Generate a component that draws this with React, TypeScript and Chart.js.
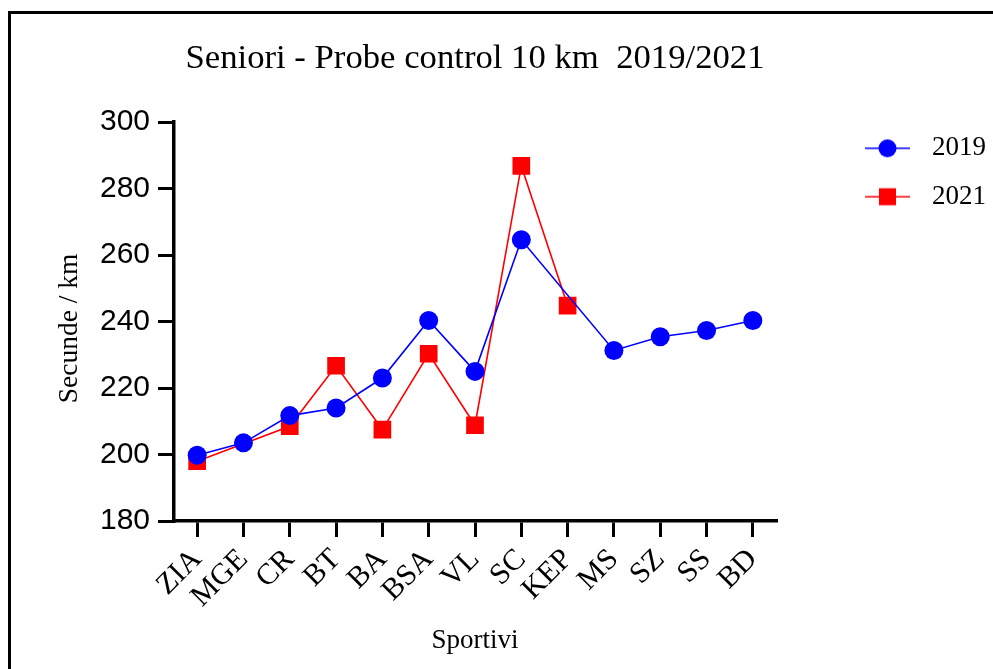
import React, { useEffect, useRef } from 'react';
import { Chart, registerables } from 'chart.js';

Chart.register(...registerables);

const chartTitle = 'Seniori - Probe control 10 km  2019/2021';
const categories = ['ZIA', 'MGE', 'CR', 'BT', 'BA', 'BSA', 'VL', 'SC', 'KEP', 'MS', 'SZ', 'SS', 'BD'];
const series2019: (number | null)[] = [199.8, 203.5, 211.7, 214.0, 223.0, 240.3, 225.0, 264.6, null, 231.3, 235.4, 237.3, 240.3];
const series2021: (number | null)[] = [198.0, null, 208.5, 226.7, 207.5, 230.3, 208.8, 286.8, 244.8, null, null, null, null];
const yTickValues = [180, 200, 220, 240, 260, 280, 300];
const seriesNames = ['2019', '2021'];

const SERIF = "'Liberation Serif', 'Times New Roman', serif";
const SANS = "'Liberation Sans', Arial, sans-serif";

function makeIcon(color: string, shape: 'circle' | 'rect'): HTMLCanvasElement {
  const c = document.createElement('canvas');
  c.width = 104;
  c.height = 24;
  const ctx = c.getContext('2d')!;
  ctx.strokeStyle = color;
  ctx.lineWidth = 2;
  ctx.globalAlpha = 0.75;
  ctx.beginPath();
  ctx.moveTo(59, 12);
  ctx.lineTo(104, 12);
  ctx.stroke();
  ctx.globalAlpha = 1;
  ctx.fillStyle = color;
  ctx.beginPath();
  if (shape === 'circle') {
    ctx.arc(81.5, 12, 9, 0, Math.PI * 2);
  } else {
    ctx.rect(81.5 - 8.5, 12 - 8.5, 17, 17);
  }
  ctx.fill();
  return c;
}

export default function App() {
  const ref = useRef<HTMLCanvasElement>(null);

  useEffect(() => {
    if (!ref.current) return;
    const iconBlue = makeIcon('#0000ff', 'circle');
    const iconRed = makeIcon('#ff0000', 'rect');
    const chart = new Chart(ref.current, {
      type: 'line',
      data: {
        labels: categories,
        datasets: [
          {
            label: seriesNames[0],
            data: series2019,
            borderColor: '#0000ff',
            backgroundColor: '#0000ff',
            borderWidth: 1.6,
            pointStyle: 'circle',
            pointRadius: 9.5,
            pointBorderWidth: 0,
            pointBackgroundColor: '#0000ff',
            spanGaps: true,
            tension: 0,
          },
          {
            label: seriesNames[1],
            data: series2021,
            borderColor: '#ff0000',
            backgroundColor: '#ff0000',
            borderWidth: 1.6,
            pointStyle: 'rect',
            pointRadius: 12.5,
            pointBorderWidth: 0,
            pointBackgroundColor: '#ff0000',
            spanGaps: true,
            tension: 0,
          },
        ],
      },
      options: {
        responsive: false,
        animation: false,
        devicePixelRatio: 1,
        layout: { padding: { top: 20, left: 0, right: 0, bottom: 0 } },
        plugins: {
          tooltip: { enabled: false },
          title: {
            display: true,
            text: chartTitle,
            fullSize: false,
            color: '#000',
            font: { family: SERIF, size: 34.7, weight: 'normal' },
            padding: { top: 18.1, bottom: 42.3 },
          },
          legend: {
            display: true,
            position: 'right',
            align: 'start',
            maxWidth: 217,
            title: {
              display: true,
              text: '',
              font: { size: 12 },
              padding: { top: 79, bottom: 0 },
            },
            labels: {
              usePointStyle: true,
              pointStyleWidth: 121.1,
              padding: 21.4,
              color: '#000',
              font: { family: SERIF, size: 27 },
              generateLabels: () => [
                { text: seriesNames[0], pointStyle: iconBlue as any, fillStyle: '#0000ff', strokeStyle: '#0000ff', lineWidth: 0, hidden: false, datasetIndex: 0, fontColor: '#000' },
                { text: seriesNames[1], pointStyle: iconRed as any, fillStyle: '#ff0000', strokeStyle: '#ff0000', lineWidth: 0, hidden: false, datasetIndex: 1, fontColor: '#000' },
              ],
            },
          },
        },
        scales: {
          x: {
            type: 'category',
            offset: true,
            afterFit: (scale: any) => { scale.height = 148; },
            grid: { display: true, drawOnChartArea: false, drawTicks: true, tickLength: 16, color: '#000', lineWidth: 3, offset: false },
            border: { display: true, color: '#000', width: 3.5 },
            ticks: {
              autoSkip: false,
              maxRotation: 45,
              minRotation: 45,
              padding: 5,
              color: '#000',
              font: { family: SERIF, size: 30 },
            },
            title: {
              display: true,
              text: 'Sportivi',
              color: '#000',
              font: { family: SERIF, size: 27 },
              padding: { top: 0, bottom: 11.5 },
            },
          },
          y: {
            min: 180,
            max: 300,
            afterFit: (scale: any) => { scale.width = 174; },
            afterBuildTicks: (scale: any) => { scale.ticks = yTickValues.map((v) => ({ value: v })); },
            grid: { display: true, drawOnChartArea: false, drawTicks: true, tickLength: 16, color: '#000', lineWidth: 3 },
            border: { display: true, color: '#000', width: 3.5 },
            ticks: {
              padding: 8,
              color: '#000',
              font: { family: SANS, size: 30 },
            },
            title: {
              display: true,
              text: 'Secunde / km  ',
              color: '#000',
              font: { family: SERIF, size: 27.5 },
              padding: { top: 53, bottom: 0 },
            },
          },
        },
      },
    });
    return () => chart.destroy();
  }, []);

  return (
    <div>
      <div
        style={{
          position: 'fixed',
          left: 8,
          top: 11,
          width: 982,
          height: 655,
          borderTop: '3px solid #000',
          borderLeft: '3px solid #000',
          boxSizing: 'content-box',
        }}
      />
      <canvas
        ref={ref}
        width={993}
        height={669}
        style={{ position: 'fixed', left: 0, top: 0, width: 993, height: 669 }}
      />
    </div>
  );
}
